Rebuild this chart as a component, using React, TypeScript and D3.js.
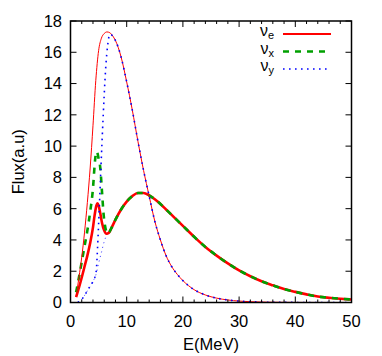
import React from "react";
import * as d3 from "d3";

// ---- data ----
const xTicks = [0, 10, 20, 30, 40, 50];
const yTicks = [0, 2, 4, 6, 8, 10, 12, 14, 16, 18];

// set 1: nu_e (thin red)
const energyA = [1, 1.5, 2, 2.5, 3, 3.5, 4, 4.5, 5, 5.5, 6, 6.5, 7, 7.5, 8, 8.5, 9, 10, 11, 12, 13, 14, 15, 16, 17, 18, 19, 20, 22, 24, 26, 28, 30, 32, 35, 40, 45, 50];
const fluxA = [0.35, 1.6, 2.9, 4.5, 6.4, 8.6, 11.3, 14.2, 16.1, 16.9, 17.2, 17.3, 17.25, 17.05, 16.75, 16.3, 15.7, 14.1, 12.3, 10.3, 8.45, 6.8, 5.2, 4.0, 3.0, 2.3, 1.8, 1.4, 0.82, 0.48, 0.28, 0.16, 0.09, 0.05, 0.02, 0.005, 0.001, 0];

// set 1: nu_y (blue dotted)
const energyY1 = [1.3, 2, 2.5, 3, 3.5, 4, 4.4, 4.6, 4.8, 5.0, 5.2, 5.4, 5.6, 5.8, 6.0, 6.3, 6.6, 7, 7.5, 8, 8.5, 9, 10, 11, 12, 13, 14, 15, 16, 17, 18, 19, 20, 22, 24, 26, 28, 30, 32, 35, 40, 45, 50];
const fluxY1 = [0, 0.2, 0.45, 0.75, 1.05, 1.35, 1.7, 2.1, 3.4, 5.0, 6.7, 8.5, 10.2, 11.8, 13.3, 15.2, 16.4, 17.15, 17.05, 16.75, 16.3, 15.7, 14.1, 12.3, 10.3, 8.45, 6.8, 5.2, 4.0, 3.0, 2.3, 1.8, 1.4, 0.82, 0.48, 0.28, 0.16, 0.09, 0.05, 0.02, 0.005, 0.001, 0];

// set 2: nu_e (thick red)
const energyB = [1, 1.5, 2, 2.5, 3, 3.5, 4, 4.3, 4.6, 4.8, 5.0, 5.3, 5.6, 6.0, 6.4, 6.8, 7.2, 8, 9, 10, 11, 12, 13, 14, 15, 16, 17, 18, 19, 20, 22, 24, 26, 28, 30, 32, 34, 36, 38, 40, 42, 44, 46, 48, 50];
const fluxB = [0.35, 0.95, 1.6, 2.3, 3.0, 3.8, 4.8, 5.6, 6.2, 6.35, 6.2, 5.7, 5.1, 4.6, 4.4, 4.45, 4.7, 5.3, 5.95, 6.45, 6.8, 7.0, 7.0, 6.85, 6.6, 6.3, 5.95, 5.6, 5.25, 4.9, 4.2, 3.55, 3.0, 2.5, 2.05, 1.68, 1.36, 1.1, 0.86, 0.68, 0.52, 0.38, 0.3, 0.24, 0.19];

// set 2: nu_x (green dashed)
const energyX = [1, 1.5, 2, 2.5, 3, 3.5, 4, 4.3, 4.5, 4.65, 4.8, 5.0, 5.3, 5.6, 5.9, 6.2, 6.6, 6.8, 7.2, 8, 9, 10, 11, 12, 13, 14, 15, 16, 17, 18, 19, 20, 22, 24, 26, 28, 30, 32, 34, 36, 38, 40, 42, 44, 46, 48, 50];
const fluxX = [0.65, 1.6, 2.6, 3.6, 4.6, 5.8, 7.3, 8.8, 9.5, 9.65, 9.55, 9.2, 8.6, 7.1, 5.6, 4.8, 4.42, 4.45, 4.7, 5.3, 5.95, 6.45, 6.8, 7.0, 7.0, 6.85, 6.6, 6.3, 5.95, 5.6, 5.25, 4.9, 4.2, 3.55, 3.0, 2.5, 2.05, 1.68, 1.36, 1.1, 0.86, 0.68, 0.52, 0.38, 0.3, 0.24, 0.19];

// set 2: nu_y (blue dotted, thin)
const energyY2 = [1.3, 2, 2.5, 3, 3.5, 4, 4.5, 5.0, 5.5, 6.0, 6.5, 7.0, 7.2, 8, 9, 10, 11, 12, 13, 14, 15, 16, 17, 18, 19, 20, 22, 24, 26, 28, 30, 32, 34, 36, 38, 40, 42, 44, 46, 48, 50];
const fluxY2 = [0, 0.2, 0.45, 0.75, 1.05, 1.35, 1.75, 2.5, 3.2, 3.9, 4.35, 4.55, 4.7, 5.3, 5.95, 6.45, 6.8, 7.0, 7.0, 6.85, 6.6, 6.3, 5.95, 5.6, 5.25, 4.9, 4.2, 3.55, 3.0, 2.5, 2.05, 1.68, 1.36, 1.1, 0.86, 0.68, 0.52, 0.38, 0.3, 0.24, 0.19];

const legendSubs = ["e", "x", "y"];

const W = 382, H = 356;
const x = d3.scaleLinear().domain([0, 50]).range([70.5, 351.5]);
const y = d3.scaleLinear().domain([0, 18]).range([302.5, 21]);

const RED = "#ff0000";
const GREEN = "#00a000";
const BLUE = "#0000ff";
const FONT = "'Liberation Sans', Arial, Helvetica, sans-serif";

function pathOf(es: number[], fs: number[]) {
  const line = d3
    .line<[number, number]>()
    .x((d) => x(d[0]))
    .y((d) => y(d[1]))
    .curve(d3.curveMonotoneX);
  return line(es.map((e, i) => [e, fs[i]] as [number, number])) || "";
}

export default function App() {
  const [x0, x1] = x.range();
  const [y0, y1] = y.range();
  const minorX = d3.range(0, 50.001, 2);
  const legendStyles = [
    { stroke: RED, width: 2, dash: "none" },
    { stroke: GREEN, width: 2.5, dash: "6,6" },
    { stroke: BLUE, width: 1.6, dash: "1.6,4.4" },
  ];
  const legendY = [34, 51.5, 69];
  return (
    <svg
      width={W}
      height={H}
      style={{ position: "absolute", left: 0, top: 0, background: "#fff" }}
      fontFamily={FONT}
    >
      <defs>
        <clipPath id="plot">
          <rect x={x0} y={y1} width={x1 - x0} height={y0 - y1} />
        </clipPath>
      </defs>
      <rect width={W} height={H} fill="#fff" />
      <g clipPath="url(#plot)" fill="none">
        <path d={pathOf(energyY2, fluxY2)} stroke={BLUE} strokeWidth={1} strokeDasharray="1.2,3.5" opacity={0.7} />
        <path d={pathOf(energyB, fluxB)} stroke={RED} strokeWidth={2.6} />
        <path d={pathOf(energyX, fluxX)} stroke={GREEN} strokeWidth={2.6} strokeDasharray="6,6" />
        <path d={pathOf(energyA, fluxA)} stroke={RED} strokeWidth={1} />
        <path d={pathOf(energyY1, fluxY1)} stroke={BLUE} strokeWidth={1.6} strokeDasharray="1.6,4.4" />
      </g>
      {/* ticks */}
      <g stroke="#000" strokeWidth={1}>
        {minorX.map((t) => {
          const major = t % 10 === 0;
          const len = major ? 6 : 3;
          return (
            <g key={"xt" + t}>
              <line x1={x(t)} x2={x(t)} y1={y0} y2={y0 - len} />
              <line x1={x(t)} x2={x(t)} y1={y1} y2={y1 + len} />
            </g>
          );
        })}
        {yTicks.map((t) => (
          <g key={"yt" + t}>
            <line x1={x0} x2={x0 + 6} y1={y(t)} y2={y(t)} />
            <line x1={x1} x2={x1 - 6} y1={y(t)} y2={y(t)} />
          </g>
        ))}
      </g>
      <rect x={x0} y={y1} width={x1 - x0} height={y0 - y1} fill="none" stroke="#000" strokeWidth={1.5} />
      {/* tick labels */}
      <g fontSize={16.5} fill="#000">
        {xTicks.map((t) => (
          <text key={"xl" + t} x={x(t)} y={327} textAnchor="middle">
            {t}
          </text>
        ))}
        {yTicks.map((t) => (
          <text key={"yl" + t} x={62} y={y(t)} dy="0.36em" textAnchor="end">
            {t}
          </text>
        ))}
      </g>
      <text x={(x0 + x1) / 2} y={350} textAnchor="middle" fontSize={16.5}>
        E(MeV)
      </text>
      <text
        transform={`translate(24, ${(y0 + y1) / 2}) rotate(-90)`}
        textAnchor="middle"
        fontSize={16.5}
      >
        Flux(a.u)
      </text>
      {/* legend */}
      {legendSubs.map((s, i) => (
        <g key={"lg" + s}>
          <text x={274} y={legendY[i] + 2} textAnchor="end" fontSize={16} fill="#000">
            ν
            <tspan fontSize={11} dy={3}>
              {s}
            </tspan>
          </text>
          <line
            x1={283}
            x2={331}
            y1={legendY[i]}
            y2={legendY[i]}
            stroke={legendStyles[i].stroke}
            strokeWidth={legendStyles[i].width}
            strokeDasharray={legendStyles[i].dash}
          />
        </g>
      ))}
    </svg>
  );
}
